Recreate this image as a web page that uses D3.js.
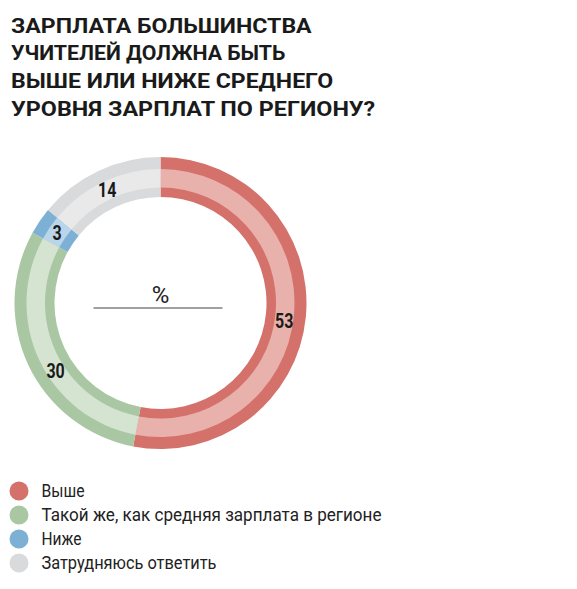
<!DOCTYPE html>
<html><head><meta charset="utf-8">
<script src="https://cdn.jsdelivr.net/npm/d3@7"></script>
<style>
html,body{margin:0;padding:0;background:#fff;}
svg{display:block;}
</style></head>
<body>
<svg id="chart" width="577" height="589"></svg>
<script>
const titleLines = ["ЗАРПЛАТА БОЛЬШИНСТВА", "УЧИТЕЛЕЙ ДОЛЖНА БЫТЬ", "ВЫШЕ ИЛИ НИЖЕ СРЕДНЕГО", "УРОВНЯ ЗАРПЛАТ ПО РЕГИОНУ?"];
const categories = ["Выше", "Такой же, как средняя зарплата в регионе", "Ниже", "Затрудняюсь ответить"];
const values = [53, 30, 3, 14];
const darkColors = ["#d4716a", "#aac7a4", "#7db0d5", "#d9dadc"];
const lightColors = ["#e8b1ab", "#d5e4d1", "#b9d5ea", "#e9e9ea"];
const unitLabel = "%";

const svg = d3.select("#chart");
const font = "Roboto,'DejaVu Sans Condensed',sans-serif";

function squeeze(sel, ratio) {
  sel.each(function(){
    const w = this.getComputedTextLength();
    d3.select(this).attr("textLength", w * ratio).attr("lengthAdjust", "spacingAndGlyphs");
  });
}
function fitText(sel, target) {
  sel.each(function(){
    d3.select(this).attr("textLength", target).attr("lengthAdjust", "spacingAndGlyphs");
  });
}

// Title: horizontal condensing, blended between a common factor and per-line fit
const titleWidths = [307, 252, 329, 377];
const tlines = svg.selectAll("text.title").data(titleLines).join("text")
  .attr("class", "title")
  .attr("x", 0).attr("y", 0)
  .attr("font-family", font)
  .attr("font-weight", "bold")
  .attr("font-size", 21)
  .attr("fill", "#1a1a1a")
  .text(d => d);
const nat = [];
tlines.each(function(){ nat.push(this.getComputedTextLength()); });
const ratios = nat.map((w, i) => titleWidths[i] / w);
const common = d3.mean(ratios);
tlines.attr("transform", (d, i) => {
  const s = 0.55 * common + 0.45 * ratios[i];
  return `translate(11,${32.5 + i * 27.8}) scale(${s},1)`;
});

// Donut
const cx = 160.5, cy = 303;
const g = svg.append("g").attr("transform", `translate(${cx},${cy})`);
const pie = d3.pie().sort(null).value(d => d.v);
const data = pie(values.map((v, i) => ({v, i})));
const outerArc = d3.arc().innerRadius(106).outerRadius(146);
const innerArc = d3.arc().innerRadius(115.5).outerRadius(134);

g.selectAll("path.dark").data(data).join("path")
  .attr("class", "dark").attr("d", outerArc)
  .attr("fill", d => darkColors[d.data.i]);
g.selectAll("path.light").data(data).join("path")
  .attr("class", "light").attr("d", innerArc)
  .attr("fill", d => lightColors[d.data.i]);

// label placement: mid-angle of each slice, with small manual nudges (radians)
const labelNudge = [0.045, -0.135, 0, 0];
const labelR = 125;
g.selectAll("text.val").data(data).join("text")
  .attr("class", "val")
  .attr("transform", d => {
    const a = (d.startAngle + d.endAngle) / 2 + labelNudge[d.data.i];
    return `translate(${labelR * Math.sin(a)},${-labelR * Math.cos(a)})`;
  })
  .attr("text-anchor", "middle")
  .attr("dy", "0.36em")
  .attr("font-family", font)
  .attr("font-weight", "bold")
  .attr("font-size", 20)
  .attr("fill", "#1a1a1a")
  .text(d => d.data.v)
  .call(squeeze, 0.8);

// Center unit
g.append("text").attr("x", 0).attr("y", 0)
  .attr("text-anchor", "middle")
  .attr("font-family", font)
  .attr("font-size", 24)
  .attr("fill", "#222")
  .text(unitLabel);
g.append("line").attr("x1", -67).attr("x2", 62).attr("y1", 5).attr("y2", 5)
  .attr("stroke", "#808080").attr("stroke-width", 1.3);

// Legend
const legendWidths = [43, 340, 40, 175];
const lg = svg.append("g");
categories.forEach((c, i) => {
  const y = 491 + i * 24;
  lg.append("circle").attr("cx", 19).attr("cy", y).attr("r", 9.5).attr("fill", darkColors[i]);
  const t = lg.append("text").attr("x", 41.5).attr("y", y + 6)
    .attr("font-family", font)
    .attr("font-size", 17.5)
    .attr("fill", "#222")
    .text(c);
  fitText(t, legendWidths[i]);
});
</script>
</body></html>
